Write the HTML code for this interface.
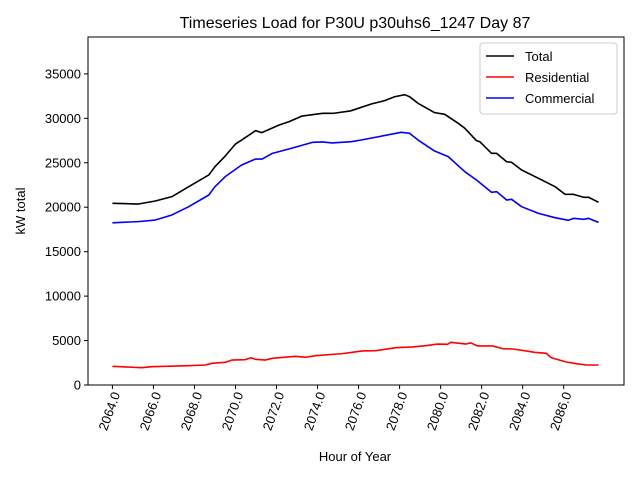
<!DOCTYPE html>
<html><head><meta charset="utf-8"><style>
body{margin:0;background:#fff}
svg{font-family:"Liberation Sans","DejaVu Sans",sans-serif}
</style></head><body>
<svg id="c" width="640" height="480"></svg>
<script>
const totalHours=[2064,2065.27,2066.09,2066.9,2067.72,2068.7,2069.0,2069.5,2070.0,2070.5,2070.98,2071.28,2072.13,2072.6,2073.25,2074.25,2074.75,2075.56,2075.64,2076.62,2077.27,2077.76,2078.25,2078.49,2078.9,2079.71,2080.2,2080.86,2081.18,2081.75,2081.91,2082.48,2082.73,2083.22,2083.46,2083.95,2084.77,2085.58,2086.07,2086.48,2086.97,2087.21,2087.7];
const totalValues=[20440,20360,20700,21190,22310,23630,24560,25760,27110,27860,28610,28390,29250,29620,30260,30560,30560,30820,30860,31610,31990,32430,32660,32430,31690,30640,30450,29440,28880,27490,27370,26060,26060,25120,25050,24190,23250,22310,21450,21450,21120,21120,20550];
const comHours=[2064,2065.27,2066.09,2066.9,2067.72,2068.7,2069.0,2069.5,2070.3,2070.98,2071.3,2071.8,2072.6,2073.75,2074.25,2074.7,2075.64,2076.13,2078.08,2078.49,2078.9,2079.71,2080.37,2081.18,2081.75,2082.48,2082.73,2083.22,2083.46,2083.95,2084.77,2085.58,2086.23,2086.48,2086.97,2087.21,2087.7];
const comValues=[18250,18380,18560,19130,20060,21375,22310,23440,24750,25420,25420,26060,26550,27300,27340,27230,27370,27560,28430,28310,27560,26320,25690,24000,23060,21680,21750,20810,20890,20060,19310,18820,18530,18750,18640,18750,18300];
const resHours=[2064,2065.43,2065.92,2067.72,2068.53,2068.85,2069.5,2069.83,2070.48,2070.76,2070.97,2071.46,2071.79,2072.93,2073.42,2073.91,2075.21,2076.19,2076.84,2077.82,2078.63,2079.28,2079.85,2080.34,2080.5,2081.24,2081.48,2081.8,2082.54,2083.03,2083.52,2084.17,2084.58,2085.15,2085.4,2086.13,2086.62,2087.11,2087.7];
const resValues=[2100,1950,2060,2170,2250,2440,2550,2810,2850,3070,2890,2810,3000,3230,3120,3300,3530,3830,3860,4200,4280,4420,4610,4580,4800,4610,4730,4390,4390,4090,4050,3830,3680,3560,3070,2590,2400,2250,2250];
const xTicks=[2064,2066,2068,2070,2072,2074,2076,2078,2080,2082,2084,2086];
const yTicks=[0,5000,10000,15000,20000,25000,30000,35000];
const xMin=2062.81,xMax=2088.94,yMin=0,yMax=39150;
const L=88,R=624,T=37,B=385;
const X=v=>L+(v-xMin)/(xMax-xMin)*(R-L);
const Y=v=>B-(v-yMin)/(yMax-yMin)*(B-T);
const svg=document.getElementById('c');const NS='http://www.w3.org/2000/svg';
function mk(tag,attrs,parent){const e=document.createElementNS(NS,tag);for(const k in attrs)e.setAttribute(k,attrs[k]);(parent||svg).appendChild(e);return e;}
let t=mk('text',{x:355,y:28,'text-anchor':'middle','font-size':16});t.textContent='Timeseries Load for P30U p30uhs6_1247  Day 87';


function series(hs,vs,color,name){const p=mk('polyline',{points:hs.map((h,i)=>X(h)+','+Y(vs[i])).join(' '),fill:'none',stroke:color,'stroke-width':1.6,'stroke-linejoin':'round'});

}
series(totalHours,totalValues,'#000','total-line');
series(resHours,resValues,'#f00','residential-line');
series(comHours,comValues,'#00f','commercial-line');
const ax=mk('rect',{x:L,y:T,width:R-L,height:B-T,fill:'none',stroke:'#000','stroke-width':1});


xTicks.forEach(v=>{const x=X(v);mk('line',{x1:x,x2:x,y1:B,y2:B+4,stroke:'#000'});
const tx=mk('text',{transform:`translate(${x+8},${B+9}) rotate(-70)`,'text-anchor':'end','font-size':13});tx.textContent=v.toFixed(1);

});
yTicks.forEach(v=>{const y=Y(v);mk('line',{x1:L-4,x2:L,y1:y,y2:y,stroke:'#000'});
const ty=mk('text',{x:L-7,y:y+4.5,'text-anchor':'end','font-size':13});ty.textContent=v;

});
let xl=mk('text',{x:355,y:461,'text-anchor':'middle','font-size':13});xl.textContent='Hour of Year';


let yl=mk('text',{transform:'translate(25,211) rotate(-90)','text-anchor':'middle','font-size':13});yl.textContent='kW total';


const lg=mk('g',{});


mk('rect',{x:480,y:43,width:137,height:71,rx:3,fill:'#fff',stroke:'#ccc'},lg);
[['Total','#000',56],['Residential','#f00',77],['Commercial','#00f',98]].forEach(([n,c,y])=>{
mk('line',{x1:486,x2:514,y1:y,y2:y,stroke:c,'stroke-width':1.6},lg);
const e=mk('text',{x:525,y:y+5,'font-size':13},lg);e.textContent=n;

});
</script></body></html>
